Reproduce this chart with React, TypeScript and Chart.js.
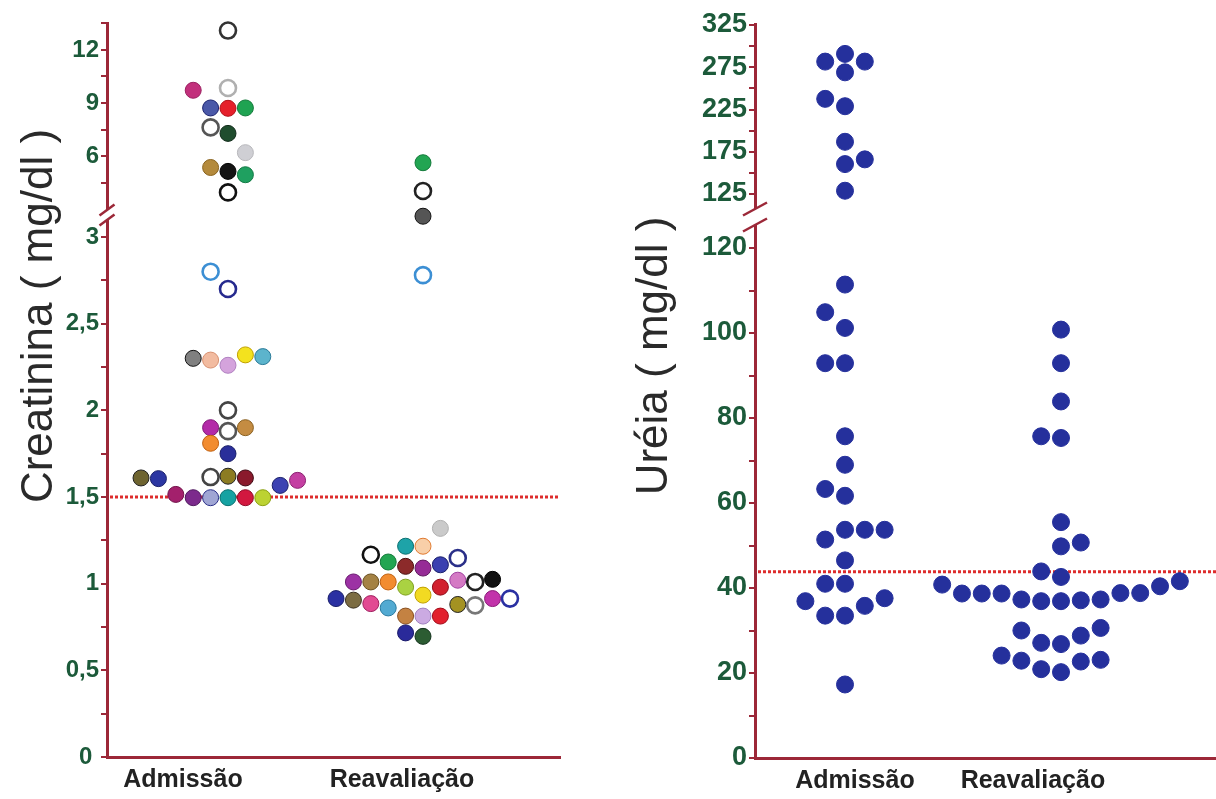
import React, { useEffect, useRef } from 'react';
import { Chart, registerables } from 'chart.js';
Chart.register(...registerables);

// ---------------- data ----------------
const categories = ['Admissão', 'Reavaliação'];

// Creatinina (mg/dl)
const creatAdmValues = [13.1, 9.72, 9.85, 8.72, 8.7, 8.72, 7.62, 7.28, 6.19, 5.35, 5.13, 4.94, 3.94,
  2.8, 2.7, 2.3, 2.29, 2.26, 2.32, 2.31, 2.0, 1.9, 1.88, 1.9, 1.81, 1.75,
  1.61, 1.606, 1.615, 1.62, 1.61, 1.567, 1.596, 1.515, 1.496, 1.496, 1.496, 1.496, 1.496];
const creatAdmSlots = [0, -2, 0, -1, 0, 1, -1, 0, 1, -1, 0, 1, 0,
  -1, 0, -2, -1, 0, 1, 2, 0, -1, 0, 1, -1, 0,
  -5, -4, -1, 0, 1, 3, 4, -3, -2, -1, 0, 1, 2];
const creatReaValues = [5.62, 4.02, 3.12, 2.78, 1.319, 1.216, 1.216, 1.167, 1.148, 1.109, 1.125, 1.10, 1.09,
  1.01, 1.01, 1.01, 0.98, 0.98, 1.02, 1.01, 1.025,
  0.914, 0.905, 0.885, 0.86, 0.934, 0.88, 0.875, 0.914, 0.914,
  0.813, 0.813, 0.813, 0.716, 0.696];
const creatReaSlots = [0, 0, 0, 0, 1, -1, 0, -3, 2, 1, -2, -1, 0,
  -4, -3, -2, -1, 1, 2, 3, 4,
  -5, -4, -3, -2, 0, 2, 3, 4, 5,
  -1, 0, 1, -1, 0];
const creatLowerTicks = [0, 0.25, 0.5, 0.75, 1, 1.25, 1.5, 1.75, 2, 2.25, 2.5, 2.75, 3];
const creatLowerLabels = [0, 0.5, 1, 1.5, 2, 2.5, 3];
const creatUpperTicks = [4.5, 6, 7.5, 9, 10.5, 12, 13.5];
const creatUpperLabels = [6, 9, 12];
const creatReference = 1.5;

// Uréia (mg/dl)
const ureiaAdmValues = [290.8, 281.7, 281.7, 269, 237.6, 228.9, 186.8, 166, 160.4, 128.9,
  111.4, 104.9, 101.2, 92.9, 92.9, 75.7, 69.0, 63.3, 61.7, 53.7, 53.7, 53.7, 51.4, 46.5,
  41.0, 41.0, 37.6, 36.9, 35.8, 33.5, 33.5, 17.3];
const ureiaAdmSlots = [0, -1, 1, 0, -1, 0, 0, 1, 0, 0,
  0, -1, 0, -1, 0, 0, 0, -1, 0, 0, 1, 2, -1, 0,
  -1, 0, 2, -2, 1, -1, 0, 0];
const ureiaReaValues = [100.8, 92.9, 83.9, 75.7, 75.3, 55.5, 50.7, 49.8, 43.9, 42.6,
  41.6, 40.8, 40.4, 38.8, 38.8, 38.7, 38.7, 38.7, 37.3, 37.3, 37.1, 36.9, 36.9,
  30.6, 30.0, 28.8, 27.1, 26.8, 24.1, 23.1, 22.9, 22.7, 20.9, 20.2];
const ureiaReaSlots = [0, 0, 0, -1, 0, 0, 1, 0, -1, 0,
  6, -6, 5, 3, 4, -5, -4, -3, -2, 2, 1, -1, 0,
  2, -2, 1, -1, 0, -3, 2, -2, 1, -1, 0];
const ureiaLowerTicks = [0, 10, 20, 30, 40, 50, 60, 70, 80, 90, 100, 110, 120];
const ureiaLowerLabels = [0, 20, 40, 60, 80, 100, 120];
const ureiaUpperTicks = [125, 150, 175, 200, 225, 250, 275, 300, 325];
const ureiaUpperLabels = [125, 175, 225, 275, 325];
const ureiaReference = 43.8;

// ---------------- styles ----------------
const creatAdmFill = ['#ffffff', '#c2307c', '#ffffff', '#4a58a8', '#e5202b', '#1fa352', '#ffffff', '#1f4d2e', '#cfcfd4', '#b48a3c', '#141414', '#1fa060', '#ffffff',
  '#ffffff', '#ffffff', '#808080', '#f2bba0', '#d4a3dc', '#f3e21e', '#5cb4cc', '#ffffff', '#b32aa8', '#ffffff', '#c48c42', '#f28c30', '#2a2f9a',
  '#6e6430', '#2c36a2', '#ffffff', '#8c7c22', '#8a1a2c', '#3c42b2', '#c43fa2', '#a3206c', '#7c2a8c', '#a0a6d4', '#16a2a2', '#d2183f', '#bcd232'];
const creatAdmBorder = ['#333333', '#9a2060', '#b0b0b0', '#1c2470', '#b01018', '#137a3a', '#555555', '#0f2a18', '#b8b8bc', '#8a6420', '#000000', '#137a44', '#111111',
  '#3c8fd4', '#262a8e', '#111111', '#d89070', '#b080c0', '#c0a000', '#2a7a98', '#444444', '#801a78', '#555555', '#8a6020', '#c06010', '#1a1f6a',
  '#222222', '#1a206a', '#444444', '#222222', '#400a14', '#1a206a', '#8a2070', '#701048', '#501a60', '#2a2f88', '#0a7070', '#900a28', '#8aa010'];
const creatReaFill = ['#22a552', '#ffffff', '#555555', '#ffffff', '#cacaca', '#1ea3a8', '#f8cfa8', '#ffffff', '#ffffff', '#3a40b0', '#22a552', '#8c2a2a', '#962c96',
  '#9c32a4', '#a48244', '#f28c30', '#aad242', '#d2202e', '#d47ac4', '#ffffff', '#121212',
  '#2a30a2', '#7c6c42', '#e24a92', '#52aad2', '#f2da22', '#a49222', '#ffffff', '#c232aa', '#ffffff',
  '#c48242', '#cbaae2', '#e2202e', '#2a2a9a', '#2c5c32'];
const creatReaBorder = ['#137a3a', '#222222', '#111111', '#3c8fd4', '#b0b0b0', '#0a7070', '#e07a30', '#111111', '#2a2f88', '#1a206a', '#137a3a', '#4a1010', '#601a60',
  '#6a1a70', '#6a5020', '#c06010', '#80a020', '#900a18', '#a040a0', '#222222', '#000000',
  '#1a206a', '#3a3020', '#a02060', '#2a7aa0', '#c0a000', '#222222', '#777777', '#8a1a78', '#2a30a2',
  '#8a5020', '#a080c0', '#a00a18', '#1a1a6a', '#10301a'];

const AXIS = '#9c2838';
const TICK_GREEN = '#1c5a3a';
const REF_RED = '#dd2c2c';
const DOT_BLUE = '#25309c';
const FONT = '"Liberation Sans", Arial, sans-serif';

interface Panel {
  values: number[][];
  slots: number[][];
  fills?: string[][];
  borders?: string[][];
  breakAt: number;
  lower: { min: number; max: number; ticks: number[]; labels: number[] };
  upper: { min: number; max: number; ticks: number[]; labels: number[] };
  weights: [number, number];
  xMin: number;
  xMax: number;
  slotW: number;
  labelPos: number[];
  padTop: number;
  padRight: number;
  yWidth: number;
  xHeight: number;
  title: string;
  titleX: number;
  titleY: number;
  tickSize: number;
  reference: number;
  radius: number;
  brk: { w: number; h: number; g: number };
  fmt: (v: number) => string;
}

function buildConfig(p: Panel): any {
  const datasets: any[] = [];
  p.values.forEach((vals, c) => {
    for (const part of ['yHi', 'yLo']) {
      const data: any[] = [];
      const bg: string[] = [];
      const bd: string[] = [];
      const bw: number[] = [];
      vals.forEach((v, i) => {
        const hi = v > p.breakAt;
        if ((part === 'yHi') !== hi) return;
        data.push({ x: c + 1 + p.slots[c][i] * p.slotW, y: v });
        const f = p.fills ? p.fills[c][i] : DOT_BLUE;
        const b = p.borders ? p.borders[c][i] : DOT_BLUE;
        bg.push(f);
        bd.push(b);
        bw.push(f === '#ffffff' ? 2.6 : 1);
      });
      datasets.push({
        type: 'scatter', data, xAxisID: 'x', yAxisID: part,
        pointRadius: p.radius, pointHoverRadius: p.radius,
        pointBackgroundColor: bg, pointBorderColor: bd, pointBorderWidth: bw,
        showLine: false, clip: false,
      });
    }
  });

  const yScale = (s: { min: number; max: number; ticks: number[]; labels: number[] }, weight: number) => ({
    type: 'linear', position: 'left', stack: 'y', stackWeight: weight,
    min: s.min, max: s.max,
    afterBuildTicks: (scale: any) => { scale.ticks = s.ticks.map((v) => ({ value: v })); },
    afterFit: (scale: any) => { scale.width = p.yWidth; },
    ticks: {
      autoSkip: false, padding: 2, color: TICK_GREEN,
      font: { family: FONT, size: p.tickSize, weight: 'bold' },
      callback: (v: number) => (s.labels.some((l) => Math.abs(l - v) < 1e-9) ? p.fmt(v) : ''),
    },
    grid: { drawOnChartArea: false, drawTicks: true, tickLength: 6, color: AXIS, lineWidth: 2 },
    border: { display: true, color: AXIS, width: 3 },
  });

  const decor = {
    id: 'decor',
    beforeDatasetsDraw(chart: any) {
      const { ctx, chartArea } = chart;
      const y = chart.scales.yLo.getPixelForValue(p.reference);
      ctx.save();
      ctx.strokeStyle = REF_RED;
      ctx.lineWidth = 3;
      ctx.setLineDash([3, 2]);
      ctx.beginPath();
      ctx.moveTo(chartArea.left + 3, y);
      ctx.lineTo(chartArea.right, y);
      ctx.stroke();
      ctx.restore();
    },
    afterDraw(chart: any) {
      const { ctx, chartArea } = chart;
      const yb = chart.scales.yHi.bottom;
      const x = chartArea.left;
      const { w, h, g } = p.brk;
      ctx.save();
      ctx.fillStyle = '#ffffff';
      ctx.fillRect(x - 3, yb - g / 2, 6, g);
      ctx.strokeStyle = AXIS;
      ctx.lineWidth = 2.5;
      for (const yy of [yb - g / 2, yb + g / 2]) {
        ctx.beginPath();
        ctx.moveTo(x - w / 2, yy + h / 2);
        ctx.lineTo(x + w / 2, yy - h / 2);
        ctx.stroke();
      }
      ctx.translate(p.titleX, p.titleY);
      ctx.rotate(-Math.PI / 2);
      ctx.fillStyle = '#2a2a2a';
      ctx.font = `44px ${FONT}`;
      ctx.textAlign = 'center';
      ctx.textBaseline = 'middle';
      ctx.fillText(p.title, 0, 0);
      ctx.restore();
    },
  };

  return {
    type: 'scatter',
    data: { datasets },
    options: {
      animation: false,
      responsive: false,
      events: [],
      layout: { autoPadding: false, padding: { top: p.padTop, right: p.padRight, left: 0, bottom: 0 } },
      plugins: { legend: { display: false }, tooltip: { enabled: false }, title: { display: false } },
      scales: {
        x: {
          type: 'linear', position: 'bottom', min: p.xMin, max: p.xMax,
          afterBuildTicks: (scale: any) => { scale.ticks = p.labelPos.map((v) => ({ value: v })); },
          afterFit: (scale: any) => {
            scale.height = p.xHeight;
            scale.paddingLeft = 0;
            scale.paddingRight = 0;
          },
          ticks: {
            autoSkip: false, maxRotation: 0, padding: 8, color: '#222222',
            font: { family: FONT, size: 25, weight: 'bold' },
            callback: (_v: number, i: number) => categories[i],
          },
          grid: { display: false, drawTicks: false },
          border: { display: true, color: AXIS, width: 3 },
        },
        yLo: yScale(p.lower, p.weights[1]),
        yHi: yScale(p.upper, p.weights[0]),
      },
    },
    plugins: [decor],
  };
}

const creatPanel: Panel = {
  values: [creatAdmValues, creatReaValues],
  slots: [creatAdmSlots, creatReaSlots],
  fills: [creatAdmFill, creatReaFill],
  borders: [creatAdmBorder, creatReaBorder],
  breakAt: 3.5,
  lower: { min: 0, max: 3.127, ticks: creatLowerTicks, labels: creatLowerLabels },
  upper: { min: 2.661, max: 13.528, ticks: creatUpperTicks, labels: creatUpperLabels },
  weights: [192, 542],
  xMin: 0.3795, xMax: 2.7026, slotW: 0.0892,
  labelPos: [0.769, 1.892],
  padTop: 23, padRight: 48, yWidth: 107, xHeight: 42,
  title: 'Creatinina ( mg/dl )', titleX: 40, titleY: 316,
  tickSize: 24, reference: creatReference, radius: 8,
  brk: { w: 15, h: 11, g: 10 },
  fmt: (v) => (v === 0 ? '0 ' : String(v).replace('.', ',')),
};

const ureiaPanel: Panel = {
  values: [ureiaAdmValues, ureiaReaValues],
  slots: [ureiaAdmSlots, ureiaReaSlots],
  breakAt: 120,
  lower: { min: 0, max: 127.3, ticks: ureiaLowerTicks, labels: ureiaLowerLabels },
  upper: { min: 97.8, max: 326.2, ticks: ureiaUpperTicks, labels: ureiaUpperLabels },
  weights: [193, 541],
  xMin: 0.5833, xMax: 2.7176, slotW: 0.0917,
  labelPos: [1.046, 1.87],
  padTop: 24, padRight: 0, yWidth: 147, xHeight: 41,
  title: 'Uréia ( mg/dl )', titleX: 47, titleY: 356,
  tickSize: 27, reference: ureiaReference, radius: 8.5,
  brk: { w: 24, h: 13, g: 16 },
  fmt: (v) => String(v),
};

function PanelChart({ panel }: { panel: Panel }) {
  const ref = useRef<HTMLCanvasElement | null>(null);
  useEffect(() => {
    if (!ref.current) return;
    const chart = new Chart(ref.current, buildConfig(panel));
    return () => chart.destroy();
  }, [panel]);
  return <canvas ref={ref} width={608} height={799} style={{ display: 'block', width: 608, height: 799 }} />;
}

export default function App() {
  return (
    <div style={{ position: 'fixed', left: 0, top: 0, width: 1216, height: 799, display: 'flex', background: '#ffffff' }}>
      <PanelChart panel={creatPanel} />
      <PanelChart panel={ureiaPanel} />
    </div>
  );
}
